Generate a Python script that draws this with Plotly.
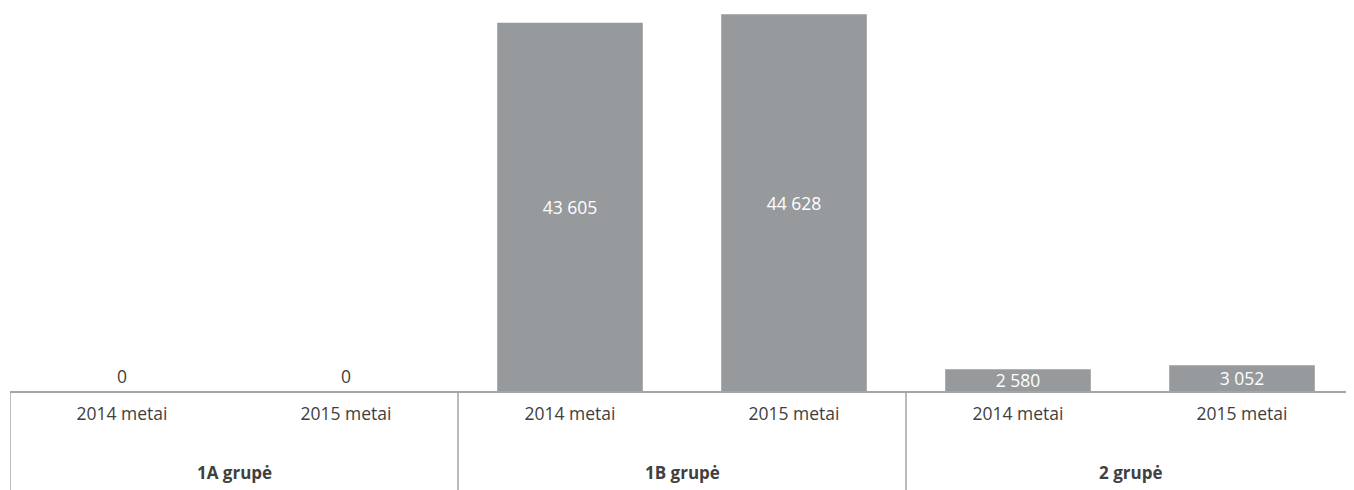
import plotly.graph_objects as go

groups = ["1A grupė", "1A grupė", "1B grupė", "1B grupė", "2 grupė", "2 grupė"]
years = ["2014 metai", "2015 metai", "2014 metai", "2015 metai", "2014 metai", "2015 metai"]
values = [0, 0, 43605, 44628, 2580, 3052]

BAR = "#969a9d"
TXT = "#404040"
LINE = "#a5a5a5"
FONT = "Open Sans"

xs = list(range(len(values)))
positions = ["outside" if v == 0 else "inside" for v in values]

fig = go.Figure(go.Bar(
    x=xs, y=values, width=0.65, marker=dict(color=BAR, line=dict(width=0)),
    texttemplate="%{y:,}", textposition=positions,
    insidetextanchor="middle", constraintext="none",
    insidetextfont=dict(color="white", size=17.5, family=FONT),
    outsidetextfont=dict(color=TXT, size=17.5, family=FONT),
    cliponaxis=False, hoverinfo="skip",
))

# group labels and dividers derived from the group list
uniq = []
for i, g in enumerate(groups):
    if not uniq or uniq[-1][0] != g:
        uniq.append([g, i, i])
    else:
        uniq[-1][2] = i

annotations = []
shapes = []
for g, a, b in uniq:
    annotations.append(dict(x=(a + b) / 2, y=-0.2115, xref="x", yref="paper",
                            text=f"<b>{g}</b>", showarrow=False, yanchor="middle",
                            font=dict(size=17, color=TXT, family=FONT)))
    shapes.append(dict(type="line", xref="x", yref="paper", x0=a - 0.5, x1=a - 0.5,
                       y0=0, y1=-0.28, line=dict(color=LINE, width=1.5)))

fig.update_layout(
    width=1346, height=482,
    margin=dict(l=2, r=0, t=0, b=99),
    paper_bgcolor="white", plot_bgcolor="white",
    separators=", ",
    showlegend=False,
    annotations=annotations, shapes=shapes,
    font=dict(family=FONT, color=TXT, size=17),
    xaxis=dict(tickvals=xs, ticktext=years, range=[-0.5, len(values) - 0.5],
               showgrid=False, zeroline=False, showline=True, linecolor=LINE, linewidth=1.5,
               ticks="", ticklabelstandoff=6, tickfont=dict(size=17.5, color=TXT, family=FONT)),
    yaxis=dict(range=[0, 45357], visible=False, showgrid=False, zeroline=False),
)

fig.write_html("out.html")
